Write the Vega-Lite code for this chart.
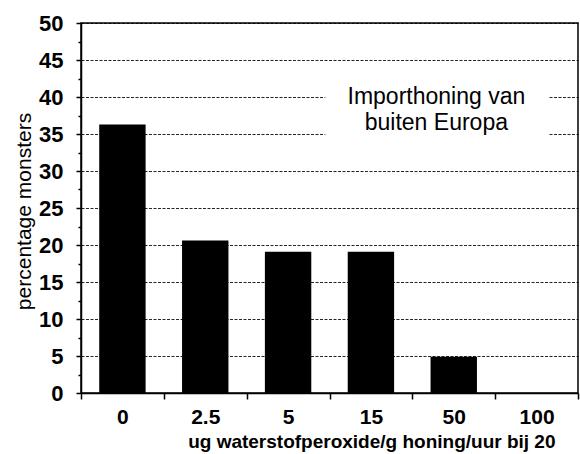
{
  "$schema": "https://vega.github.io/schema/vega-lite/v6.json",
  "width": 497,
  "height": 370,
  "autosize": {"type": "none"},
  "padding": {"left": 81, "top": 23, "right": 2, "bottom": 61},
  "background": "white",
  "config": {
    "font": "Liberation Sans",
    "view": {"stroke": "black", "strokeWidth": 1.5}
  },
  "layer": [
    {
      "data": {
        "values": [
          {"dose": "0", "pct": 36.3},
          {"dose": "2.5", "pct": 20.6},
          {"dose": "5", "pct": 19.1},
          {"dose": "15", "pct": 19.1},
          {"dose": "50", "pct": 4.9},
          {"dose": "100", "pct": 0}
        ]
      },
      "mark": {"type": "bar", "color": "black", "width": {"band": 0.56}},
      "encoding": {
        "x": {
          "field": "dose",
          "type": "nominal",
          "sort": null,
          "scale": {"paddingInner": 0, "paddingOuter": 0},
          "axis": {
            "title": "ug waterstofperoxide/g honing/uur bij 20",
            "titleFont": "Liberation Sans",
            "titleFontSize": 19,
            "titleFontWeight": "bold",
            "titleColor": "black",
            "titleAlign": "right",
            "titleAnchor": null,
            "titleX": 474,
            "titleY": 54,
            "titleBaseline": "alphabetic",
            "labelAngle": 0,
            "labelFont": "Liberation Sans",
            "labelFontSize": 21,
            "labelFontWeight": "bold",
            "labelColor": "black",
            "labelPadding": 7,
            "tickBand": "extent",
            "tickSize": 6,
            "tickColor": "black",
            "tickWidth": 1.5,
            "domainColor": "black",
            "domainWidth": 1.5,
            "grid": false
          }
        },
        "y": {
          "field": "pct",
          "type": "quantitative",
          "scale": {"domain": [0, 50], "nice": false},
          "axis": {
            "title": "percentage monsters",
            "titleFont": "Liberation Sans",
            "titleFontSize": 21,
            "titleFontWeight": "normal",
            "titleColor": "black",
            "titleAngle": -90,
            "titleAlign": "center",
            "titleBaseline": "alphabetic",
            "titleX": -51,
            "titleY": 188,
            "values": [0, 2.5, 5, 7.5, 10, 12.5, 15, 17.5, 20, 22.5, 25, 27.5, 30, 32.5, 35, 37.5, 40, 42.5, 45, 47.5, 50],
            "labelExpr": "datum.value % 5 === 0 ? datum.label : ''",
            "labelFont": "Liberation Sans",
            "labelFontSize": 22,
            "labelFontWeight": "bold",
            "labelColor": "black",
            "labelPadding": 13,
            "tickSize": {"condition": {"test": "datum.value % 5 === 0", "value": 5}, "value": 3},
            "tickColor": "black",
            "tickWidth": 1.5,
            "domainColor": "black",
            "domainWidth": 1.5,
            "grid": true,
            "gridColor": "black",
            "gridWidth": 1,
            "gridDash": [3, 1.5],
            "gridOpacity": {"condition": {"test": "datum.value % 5 === 0", "value": 0.85}, "value": 0}
          }
        }
      }
    },
    {
      "data": {
        "values": [
          {"x1": 2.95, "x2": 5.64, "y1": 32.5, "y2": 42.5, "tx": 4.29, "ty": 39.05, "label": "Importhoning van\nbuiten Europa"}
        ]
      },
      "layer": [
        {
          "mark": {"type": "rect", "color": "white", "opacity": 1},
          "encoding": {
            "x": {"field": "x1", "type": "quantitative", "scale": {"domain": [0, 6], "nice": false, "zero": false}, "axis": null},
            "x2": {"field": "x2"},
            "y": {"field": "y1", "type": "quantitative", "scale": {"domain": [0, 50], "nice": false}, "axis": null},
            "y2": {"field": "y2"}
          }
        },
        {
          "mark": {"type": "text", "font": "Liberation Sans", "fontSize": 23, "color": "black", "align": "center", "baseline": "alphabetic", "lineBreak": "\n", "lineHeight": 26},
          "encoding": {
            "x": {"field": "tx", "type": "quantitative", "axis": null},
            "y": {"field": "ty", "type": "quantitative", "axis": null},
            "text": {"field": "label"}
          }
        }
      ]
    }
  ],
  "resolve": {"scale": {"x": "independent", "y": "independent"}}
}
